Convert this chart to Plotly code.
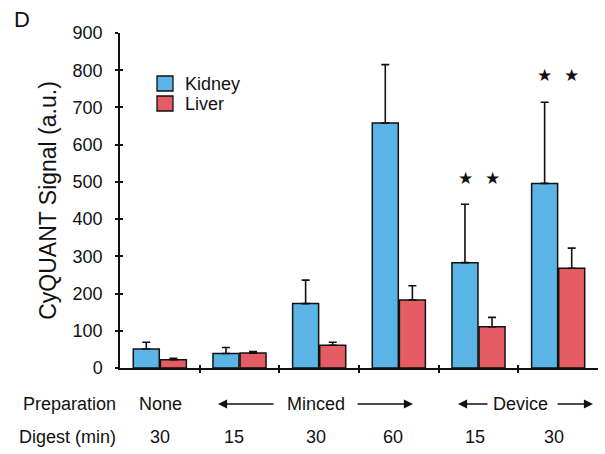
import plotly.graph_objects as go

# Sample groups (preparation method / digestion time)
preparation = ["None", "Minced", "Minced", "Minced", "Device", "Device"]
digest_min = ["30", "15", "30", "60", "15", "30"]

# Mean CyQUANT signal and upper error (SD) per tissue
series_names = ["Kidney", "Liver"]
kidney_mean = [51, 39, 173, 658, 283, 496]
kidney_err = [18, 16, 63, 157, 157, 218]
liver_mean = [22, 40, 61, 183, 111, 268]
liver_err = [4, 4, 8, 38, 25, 54]

# Significance stars (group index, height in a.u.)
star_groups = [4, 5]
star_heights = [510, 788]

FONT = "Liberation Sans, Arial, sans-serif"
KIDNEY_COLOR = "#5AB4E6"
LIVER_COLOR = "#E55C65"
INK = "#111111"
colors = [KIDNEY_COLOR, LIVER_COLOR]

x = list(range(len(digest_min)))

fig = go.Figure()
for name, mean, err, color in zip(series_names, [kidney_mean, liver_mean],
                                  [kidney_err, liver_err], colors):
    fig.add_trace(go.Bar(
        x=x, y=mean, name=name, showlegend=False,
        marker=dict(color=color, line=dict(color=INK, width=1.5)),
        error_y=dict(type="data", symmetric=False, array=err,
                     arrayminus=[0] * len(err),
                     color=INK, thickness=1.6, width=4),
    ))

# Stars above each bar of the significant groups
for g, h in zip(star_groups, star_heights):
    for shift in (-13.5, 13.5):
        fig.add_annotation(x=g, y=h, xref="x", yref="y", text="★",
                           showarrow=False, xshift=shift,
                           xanchor="center", yanchor="middle",
                           font=dict(size=17, color=INK,
                                     family="DejaVu Sans"))

# Plot area in pixels, used to place labels outside the axes
PLOT_L, PLOT_W = 120, 478
PLOT_B, PLOT_H = 368, 335


def px(xp):
    return (xp - PLOT_L) / PLOT_W


def py(yp):
    return (PLOT_B - yp) / PLOT_H


def label(xp, yp, text, size=18, anchor="center"):
    fig.add_annotation(x=px(xp), y=py(yp), xref="paper", yref="paper",
                       text=text, showarrow=False, xanchor=anchor,
                       yanchor="middle",
                       font=dict(size=size, color=INK, family=FONT))


# Legend: outlined swatch + series name
for i, (name, color) in enumerate(zip(series_names, colors)):
    top = 76 + 20 * i
    fig.add_shape(type="rect", xref="paper", yref="paper",
                  x0=px(157), x1=px(173), y0=py(top), y1=py(top + 15),
                  fillcolor=color, line=dict(color=INK, width=1.3))
    label(183, top + 8, name, anchor="left")

# Rows beneath the axis
row_prep, row_dig = 404, 437
label(69, row_prep, "Preparation")
label(67, row_dig, "Digest (min)")

digest_x = [160, 234, 316, 393, 475, 554]
for xp, lab in zip(digest_x, digest_min):
    label(xp, row_dig, lab)

prep_labels = [("None", 160), ("Minced", 316), ("Device", 520)]
for lab, xp in prep_labels:
    label(xp, row_prep, lab)

# Span arrows around the preparation names: (head, tail)
spans = [(218, 275), (413, 356), (458, 489), (593, 556)]
for head, tail in spans:
    fig.add_annotation(x=px(head), y=py(row_prep), xref="paper", yref="paper",
                       text="", showarrow=True, ax=tail - head, ay=0,
                       arrowhead=2, arrowsize=1.4, arrowwidth=1.3,
                       arrowcolor=INK)

label(22, 20, "D", size=22)

axis_common = dict(showgrid=False, zeroline=False, tickcolor=INK,
                   tickwidth=1.5)

fig.update_layout(
    width=605, height=454,
    margin=dict(l=PLOT_L, r=605 - PLOT_L - PLOT_W, t=PLOT_B - PLOT_H,
                b=454 - PLOT_B),
    paper_bgcolor="white", plot_bgcolor="white",
    barmode="group", bargap=0.32, bargroupgap=0.04,
    font=dict(family=FONT, color=INK),
    showlegend=False,
    xaxis=dict(range=[-0.5, 5.5], tickvals=[i + 0.5 for i in x[:-1]],
               showticklabels=False, ticks="outside", ticklen=3,
               showline=True, linecolor=INK, linewidth=1.5, **axis_common),
    xaxis2=dict(range=[-0.5, 5.5], overlaying="x",
                tickvals=[i + 0.5 for i in x[:-1]], showticklabels=False,
                ticks="inside", ticklen=3, showline=False, side="bottom",
                anchor="y", **axis_common),
    yaxis=dict(range=[0, 900], dtick=100, ticks="outside", ticklen=3,
               showline=True, linecolor=INK, linewidth=1.5,
               tickfont=dict(size=18, family=FONT),
               ticklabelstandoff=9,
               title=dict(text="CyQUANT Signal (a.u.)", standoff=10,
                          font=dict(size=23, family=FONT)),
               **axis_common),
    yaxis2=dict(range=[0, 900], dtick=100, overlaying="y", ticks="inside",
                ticklen=3, showticklabels=False, showline=False,
                anchor="x", **axis_common),
)

# Invisible helper trace so the overlay axes are drawn
fig.add_trace(go.Scatter(x=[0], y=[0], xaxis="x2", yaxis="y2", mode="none",
                         showlegend=False, hoverinfo="skip"))

fig.write_html("out.html")
